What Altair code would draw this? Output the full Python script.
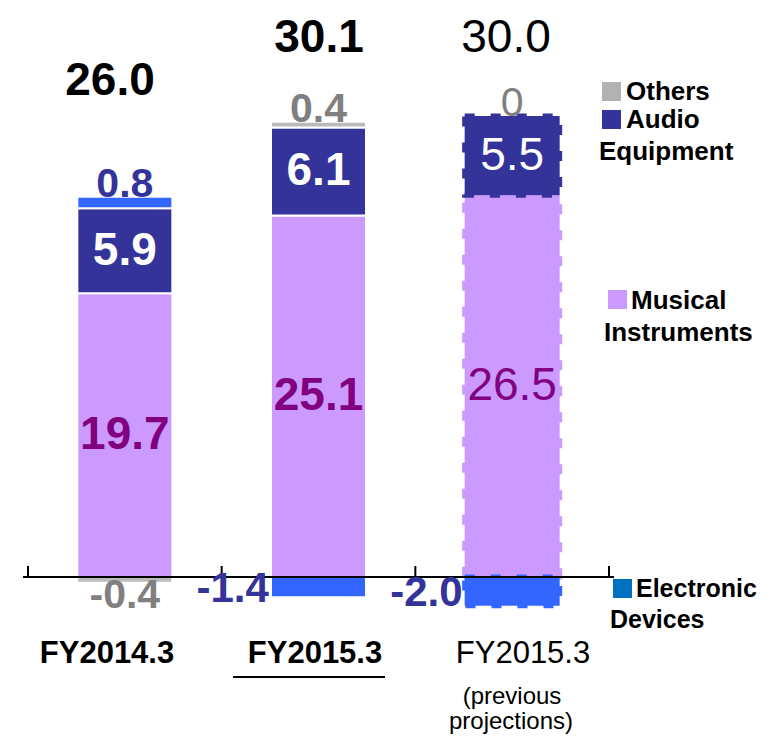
import altair as alt
import pandas as pd

# ---------------- data ----------------
categories = ["FY2014.3", "FY2015.3", "FY2015.3 (previous projections)"]
series = ["Musical Instruments", "Audio Equipment", "Electronic Devices", "Others"]
musical = [19.7, 25.1, 26.5]
audio = [5.9, 6.1, 5.5]
electronic = [0.8, -1.4, -2.0]
others = [-0.4, 0.4, 0.0]
totals = [26.0, 30.1, 30.0]
cat_lines = [["FY2014.3"], ["FY2015.3"], ["FY2015.3", "(previous", "projections)"]]
legend_lines = {
    "Others": ["Others"],
    "Audio Equipment": ["Audio", "Equipment"],
    "Musical Instruments": ["Musical", "Instruments"],
    "Electronic Devices": ["Electronic", "Devices"],
}

# ---------------- style / layout ----------------
seg_colors = ["#CC99FF", "#333399", "#3366FF", "#BBBBBB"]
legend_colors = {"Others": "#B2B2B2", "Audio Equipment": "#333399",
                 "Musical Instruments": "#CC99FF", "Electronic Devices": "#0070C0"}
FONT = "Liberation Sans"
W, H = 591, 641
Y_MIN, Y_MAX = -5.0, 39.5
PX = H / (Y_MAX - Y_MIN)      # pixels per unit
STEP = W / 3.0                # pixels per category
BAR_W = 95
OX, OY = 23, 8                # page position of the plot origin

xscale = alt.Scale(domain=[0, 3], nice=False, zero=False)
yscale = alt.Scale(domain=[Y_MIN, Y_MAX], nice=False, zero=False)
cscale = alt.Scale(domain=series, range=seg_colors)

# ---------------- tables ----------------
rows = []
for i, c in enumerate(categories):
    pos_top, neg_bot = 0.0, 0.0
    for k, (s, vals) in enumerate(zip(series, [musical, audio, electronic, others])):
        v = vals[i]
        if v >= 0:
            lo, hi = pos_top, pos_top + v
            pos_top = hi
        else:
            hi, lo = neg_bot, neg_bot + v
            neg_bot = lo
        rows.append(dict(cat=c, idx=i, pos=i + 0.5, series=s, order=k, value=v, lo=lo, hi=hi))
bars_df = pd.DataFrame(rows)

labels = []
for r in rows:
    i, s, v = r["idx"], r["series"], r["value"]
    t = "0" if v == 0 else f"{v:.1f}"
    x = r["pos"]
    align = "center"
    bold = i < 2
    if s == "Musical Instruments":
        y, col, size = (r["lo"] + r["hi"]) / 2, "#800080", 46
    elif s == "Audio Equipment":
        y, col, size = (r["lo"] + r["hi"]) / 2, "#FFFFFF", 46
    elif v >= 0:
        y = r["hi"] + 12 / PX
        col = "#333399" if s == "Electronic Devices" else "#808080"
        size = 41
    elif s == "Others":
        y, col, size = r["lo"] - 13 / PX, "#808080", 41
    else:
        y = (r["lo"] + r["hi"]) / 2 - 2 / PX
        x = r["pos"] - (BAR_W / 2 + 3) / STEP
        col, size, align, bold = "#333399", 42, "right", True
    labels.append(dict(t=t, x=x, y=y, c=col, s=size, align=align, bold=bold))
lab_df = pd.DataFrame(labels)

# ---------------- layers ----------------
base_enc = dict(
    x=alt.X("pos:Q", scale=xscale, axis=None),
    y=alt.Y("value:Q", stack="zero", scale=yscale, axis=None),
    color=alt.Color("series:N", scale=cscale, legend=None),
    order=alt.Order("order:Q"),
)

bars_solid = alt.Chart(bars_df).mark_bar(width=BAR_W, stroke="white", strokeWidth=2).encode(
    **base_enc
).transform_filter("datum.idx < 2")

bars_dash = alt.Chart(bars_df).mark_bar(width=BAR_W, strokeWidth=5, strokeDash=[10, 16]).encode(
    stroke=alt.Stroke("series:N", scale=cscale, legend=None), **base_enc
).transform_filter("datum.idx == 2 && datum.value != 0")

axis_line = alt.Chart(pd.DataFrame({"a": [0]})).mark_rule(color="black", strokeWidth=2).encode(
    x=alt.value(0), x2=alt.value(W), y=alt.Y("a:Q", scale=yscale, axis=None)
)
ticks = alt.Chart(pd.DataFrame({"b": [0, 1, 2, 3]})).mark_rule(color="black", strokeWidth=2).encode(
    x=alt.X("b:Q", scale=xscale, axis=None),
    y=alt.value(H - 5.0 * PX - 11), y2=alt.value(H - 5.0 * PX),
)


def seg_text(df, bold, align):
    return alt.Chart(df).mark_text(
        font=FONT, fontWeight="bold" if bold else "normal", align=align, baseline="middle"
    ).encode(
        x=alt.X("x:Q", scale=xscale, axis=None),
        y=alt.Y("y:Q", scale=yscale, axis=None),
        text="t:N",
        color=alt.Color("c:N", scale=None),
        size=alt.Size("s:Q", scale=None),
    )


seg_layers = []
for b in (True, False):
    for a in ("center", "right"):
        sub = lab_df[(lab_df["bold"] == b) & (lab_df["align"] == a)]
        if len(sub):
            seg_layers.append(seg_text(sub, b, a))


def label(text, xp, yp, size, bold=True, color="black", align="left"):
    return alt.Chart(pd.DataFrame({"t": [text]})).mark_text(
        font=FONT, fontSize=size, fontWeight="bold" if bold else "normal",
        color=color, align=align, baseline="alphabetic"
    ).encode(text="t:N", x=alt.value(xp - OX), y=alt.value(yp - OY))


def square(color, x0, y0, size=19):
    return alt.Chart(pd.DataFrame({"a": [0]})).mark_rect(color=color).encode(
        x=alt.value(x0 - OX), x2=alt.value(x0 - OX + size),
        y=alt.value(y0 - OY), y2=alt.value(y0 - OY + size),
    )


text_layers = []
# totals
tot_pos = [(110, 95), (319, 52), (506, 52)]
for k, (tv, (xp, yp)) in enumerate(zip(totals, tot_pos)):
    text_layers.append(label(f"{tv:.1f}", xp, yp, 46, bold=k < 2, align="center"))

# category labels
text_layers.append(label(cat_lines[0][0], 107, 663, 31, bold=True, align="center"))
text_layers.append(label(cat_lines[1][0], 315, 663, 31, bold=True, align="center"))
text_layers.append(label(cat_lines[2][0], 523, 663, 31, bold=False, align="center"))
text_layers.append(label(cat_lines[2][1], 512, 704, 24, bold=False, align="center"))
text_layers.append(label(cat_lines[2][2], 511, 729, 24, bold=False, align="center"))
underline = alt.Chart(pd.DataFrame({"a": [0]})).mark_rule(color="black", strokeWidth=2).encode(
    x=alt.value(233 - OX), x2=alt.value(385 - OX), y=alt.value(677 - OY)
)

# legend
leg = [
    ("Others", 602, 82, [(626, 100)], 26),
    ("Audio Equipment", 602, 110, [(626, 128), (599, 160)], 26),
    ("Musical Instruments", 608, 290, [(631, 309), (604, 341)], 26),
    ("Electronic Devices", 613, 579, [(636, 597), (610, 628)], 25),
]
for name, sx, sy, pos, fs in leg:
    text_layers.append(square(legend_colors[name], sx, sy))
    for line, (xp, yp) in zip(legend_lines[name], pos):
        text_layers.append(label(line, xp, yp, fs, bold=True))

chart = alt.layer(
    bars_solid, bars_dash, axis_line, ticks, underline, *seg_layers, *text_layers
).properties(
    width=W, height=H,
    padding={"left": OX - 8, "top": OY - 8, "right": 753 - (OX - 8) - W, "bottom": 728 - (OY - 8) - H},
    autosize="none",
).configure_view(stroke=None)

chart.save("out.html", embed_options={"renderer": "svg", "actions": False})
